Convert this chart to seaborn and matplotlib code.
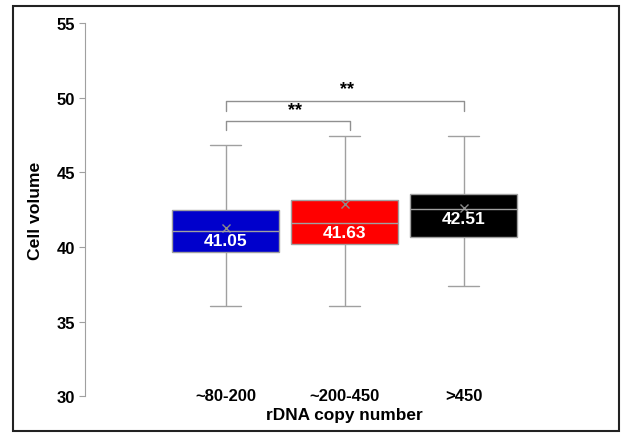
import pandas as pd
import seaborn as sns
import matplotlib.pyplot as plt
from matplotlib.patches import Rectangle

# five-number summaries (whisker low, Q1, median, Q3, whisker high)
groups = ["~80-200", "~200-450", ">450"]
low = [36.05, 36.05, 37.39]
q1 = [39.68, 40.19, 40.64]
medians = [41.05, 41.63, 42.51]
q3 = [42.50, 43.13, 43.56]
high = [46.80, 47.45, 47.45]
means = [41.29, 42.88, 42.61]
colors = ["#0000CC", "#FF0000", "#000000"]

rows = []
for i, g in enumerate(groups):
    for v in (low[i], q1[i], medians[i], q3[i], high[i]):
        rows.append({"group": g, "volume": v})
df = pd.DataFrame(rows)

sns.set_style("white")
plt.rcParams["font.family"] = ["Liberation Sans", "DejaVu Sans"]
plt.rcParams["text.color"] = "black"
plt.rcParams["axes.labelcolor"] = "black"

fig = plt.figure(figsize=(6.23, 4.35), dpi=100)
ax = fig.add_axes([0.136, 0.087, 0.834, 0.858])

grey = "#a0a0a0"
sns.boxplot(data=df, x="group", y="volume", hue="group", order=groups,
            palette=colors, legend=False, width=0.9, whis=(0, 100),
            linecolor=grey, linewidth=1.0, showfliers=False, saturation=1,
            capwidths=0.26, ax=ax)
sns.pointplot(x=groups, y=means, order=groups, linestyle="none", marker="x",
              color="#8a8a8a", markersize=6, markeredgewidth=1.0,
              errorbar=None, ax=ax)

for i, m in enumerate(medians):
    ax.annotate(f"{m:.2f}", (i, m), xytext=(0, -1.5), textcoords="offset points",
                ha="center", va="top", color="white", fontsize=12.5, fontweight="bold")

# significance brackets
def bracket(x0, x1, y, drop, label, lx):
    ax.plot([x0, x0, x1, x1], [y - drop, y, y, y - drop], color="#909090", lw=1.0)
    ax.text(lx, y + 0.2, label, ha="center", va="bottom", fontsize=13,
            fontweight="bold", color="black")

bracket(0, 2, 49.8, 0.7, "**", 1.02)
bracket(0, 1.04, 48.4, 0.6, "**", 0.58)

ax.set_ylim(30, 55)
ax.set_xlim(-1.185, 3.18)
ax.set_yticks([30, 35, 40, 45, 50, 55])
for s in ("top", "right", "bottom"):
    ax.spines[s].set_visible(False)
ax.spines["left"].set_color(grey)
ax.tick_params(axis="y", left=True, length=4, color=grey, labelcolor="black",
               labelsize=12, pad=3)
ax.tick_params(axis="x", length=0, labelcolor="black", labelsize=12, pad=-6)
for lab in ax.get_yticklabels() + ax.get_xticklabels():
    lab.set_fontweight("bold")
ax.set_xlabel("rDNA copy number", fontsize=12.4, fontweight="bold", labelpad=3)
ax.set_ylabel("Cell volume", fontsize=12.6, fontweight="bold", labelpad=10)

fig.patches.append(Rectangle((0.021, 0.007), 0.973, 0.977, transform=fig.transFigure,
                             fill=False, edgecolor="#222222", lw=1.5))

plt.savefig("out.png", dpi=100)
